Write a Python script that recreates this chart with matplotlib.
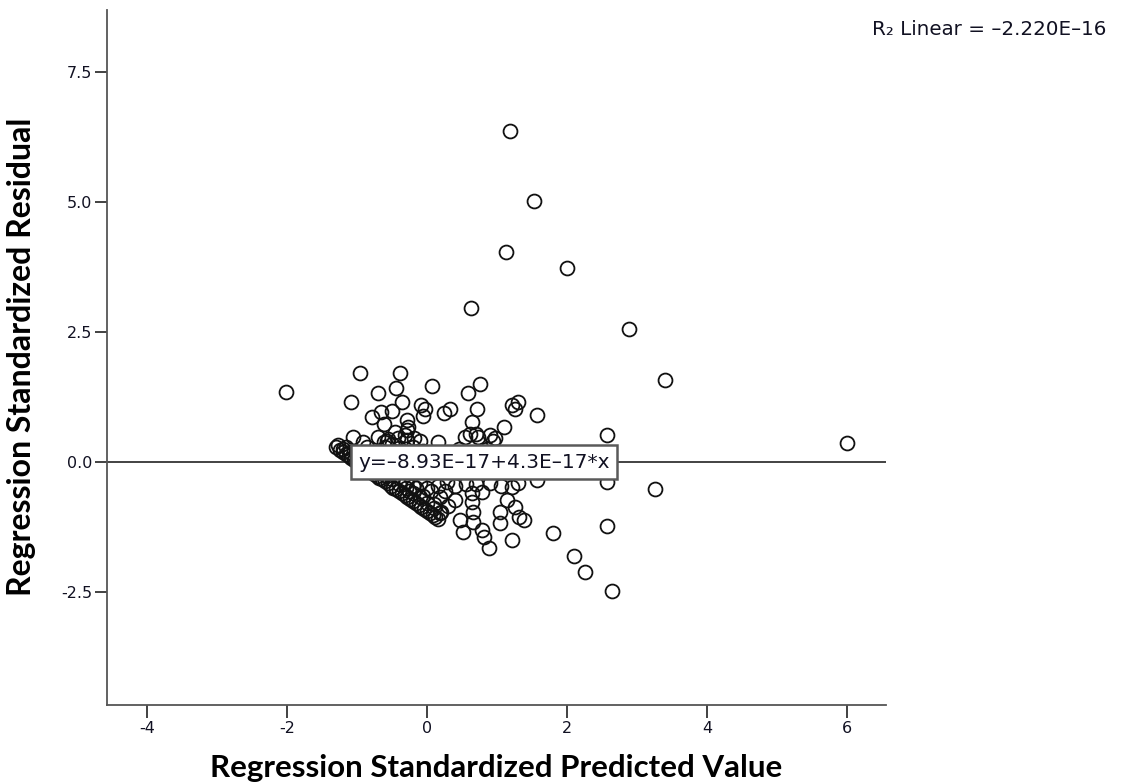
import matplotlib
matplotlib.use("Agg")
import matplotlib.pyplot as plt
from matplotlib.ticker import FixedLocator, FormatStrFormatter

# Standardized predicted values (x) and standardized residuals (y)
pred_outer = [1.19, 1.53, 1.13, 2.00, 0.63, 2.89, 3.40, -2.01, 6.00, 2.57,
              2.57, 3.26, 2.57, 1.80, 2.10, 2.26, 2.64]
resid_outer = [6.37, 5.02, 4.04, 3.73, 2.96, 2.56, 1.58, 1.35, 0.36, 0.52,
               -0.38, -0.51, -1.22, -1.36, -1.80, -2.12, -2.47]

pred_upper = [-0.95, -0.38, -0.70, -0.44, -1.08, -0.35, 0.07, 0.58, 0.75, -0.78,
              -0.65, -0.50, -0.62, -0.29, -0.27, -0.09, -0.03, -0.06, 0.24, 0.33,
              0.71, 0.64, 0.62, 0.54, 0.73, 0.90, 0.97, 1.10, 1.21, 1.30,
              1.26, 1.57, 0.16, -0.70, -1.05, -1.27, -1.20, -0.28, -0.46, -0.41,
              -0.29, -0.91, -0.57, 0.70, 0.94, -1.30, -1.15]
resid_upper = [1.72, 1.71, 1.32, 1.43, 1.16, 1.16, 1.46, 1.32, 1.51, 0.87,
               0.97, 0.99, 0.74, 0.81, 0.67, 1.10, 1.03, 0.88, 0.95, 1.03,
               1.03, 0.78, 0.55, 0.49, 0.49, 0.52, 0.46, 0.67, 1.09, 1.16,
               1.03, 0.90, 0.39, 0.49, 0.49, 0.33, 0.26, 0.62, 0.58, 0.46,
               0.42, 0.39, 0.40, 0.54, 0.40, 0.30, 0.30]

pred_mid = [-0.60, -0.50, -0.40, -0.35, -0.20, -0.15, -0.45, -0.70, -0.80, -0.25,
            -0.05, 0.05, 0.20, 0.35, 0.45, 0.55, 0.75, 0.85, 1.00, 1.15,
            1.35, 1.45, -0.55, -0.85, -0.32, -0.10, -0.62, -0.18]
resid_mid = [0.30, 0.35, 0.28, 0.20, 0.30, 0.15, 0.12, 0.20, 0.10, 0.08,
             0.22, 0.10, 0.15, 0.08, 0.25, 0.05, 0.12, 0.25, 0.20, 0.10,
             0.05, -0.10, 0.45, 0.30, 0.52, 0.40, 0.38, 0.47]

pred_lower = [0.19, 0.40, 0.64, 0.66, 0.47, 0.66, 0.52, 0.78, 0.81, 0.88,
              1.04, 1.14, 1.21, 1.26, 1.31, 1.38, 1.04, 1.21, 0.78, 0.28,
              0.64, 1.57, 0.40, 0.55, 0.90, 1.05, 1.30, 0.70, 0.15, 0.00,
              -0.10, -0.20, 0.10, -0.05, -0.25, 0.05, 0.25, 0.30, 0.20]
resid_lower = [-0.67, -0.73, -0.76, -0.95, -1.12, -1.15, -1.34, -1.31, -1.44, -1.66,
               -0.95, -0.73, -0.47, -0.86, -1.05, -1.11, -1.18, -1.49, -0.57, -0.38,
               -0.60, -0.35, -0.45, -0.42, -0.40, -0.45, -0.40, -0.42, -0.45, -0.50,
               -0.40, -0.45, -0.80, -0.65, -0.55, -0.55, -0.55, -0.85, -0.95]

# Lower-bound band of the residuals (observations at the floor of the outcome)
pred_band = [-1.24, -1.20, -1.16, -1.12, -1.08, -1.04, -1.00, -0.96, -0.92, -0.88,
             -0.84, -0.80, -0.76, -0.72, -0.68, -0.64, -0.60, -0.56, -0.52, -0.48,
             -0.44, -0.40, -0.36, -0.32, -0.28, -0.24, -0.20, -0.16, -0.12, -0.08,
             -0.04, 0.00, 0.04, 0.08, 0.12, 0.16,
             -1.10, -1.00, -0.90, -0.80, -0.70, -0.60, -0.50, -0.40, -0.30, -0.20,
             -0.10, 0.00, 0.10, 0.18, -0.30, -0.15]
resid_band = [0.23, 0.19, 0.15, 0.12, 0.08, 0.04, 0.00, -0.03, -0.07, -0.11,
              -0.15, -0.18, -0.22, -0.26, -0.30, -0.33, -0.37, -0.41, -0.45, -0.49,
              -0.52, -0.56, -0.60, -0.64, -0.68, -0.71, -0.75, -0.79, -0.83, -0.86,
              -0.90, -0.94, -0.98, -1.02, -1.05, -1.09,
              0.20, 0.10, 0.02, -0.08, -0.16, -0.25, -0.33, -0.42, -0.50, -0.60,
              -0.68, -0.78, -0.88, -0.98, -0.38, -0.50]

pred = pred_outer + pred_upper + pred_mid + pred_lower + pred_band
resid = resid_outer + resid_upper + resid_mid + resid_lower + resid_band

# Fitted line: y = b0 + b1 * x
b0 = -8.93e-17
b1 = 4.3e-17
fit_label = "y=\u20138.93E\u201317+4.3E\u201317*x"
r2_label = "R\u2082 Linear = \u20132.220E\u201316"

x_ticks = [-4, -2, 0, 2, 4, 6]
y_ticks = [-2.5, 0.0, 2.5, 5.0, 7.5]
x_lim = (-4.571, 6.557)
y_lim = (-4.67, 8.69)

fig = plt.figure(figsize=(11.25, 7.84), dpi=100)
ax = fig.add_axes([0.0951, 0.1008, 0.6925, 0.8862])

ax.plot(pred, resid, linestyle="none", marker="o", markersize=10,
        markerfacecolor="none", markeredgecolor="#111111",
        markeredgewidth=1.3, zorder=3)

ax.plot(list(x_lim), [b0 + b1 * x_lim[0], b0 + b1 * x_lim[1]],
        color="#222222", linewidth=1.2, zorder=2)

ax.text(-0.975, 0.0, fit_label, fontsize=14.5, family="DejaVu Sans",
        color="#111122", va="center", ha="left", zorder=5,
        bbox=dict(boxstyle="square,pad=0.36", facecolor="white",
                  edgecolor="#5a5a5a", linewidth=1.8))

ax.set_xlim(*x_lim)
ax.set_ylim(*y_lim)
ax.xaxis.set_major_locator(FixedLocator(x_ticks))
ax.yaxis.set_major_locator(FixedLocator(y_ticks))
ax.yaxis.set_major_formatter(FormatStrFormatter("%.1f"))
ax.xaxis.set_major_formatter(FormatStrFormatter("%d"))

for side in ("top", "right"):
    ax.spines[side].set_visible(False)
for side in ("left", "bottom"):
    ax.spines[side].set_color("#555555")
    ax.spines[side].set_linewidth(1.3)

ax.tick_params(axis="both", direction="out", length=9, width=1.3,
               color="#333333", labelsize=11.5, labelcolor="#111122")
ax.tick_params(axis="y", pad=1.5)
ax.tick_params(axis="x", pad=2.5)
for lab in ax.get_xticklabels() + ax.get_yticklabels():
    lab.set_family("DejaVu Sans")

label_font = ["Lato", "DejaVu Sans"]
ax.set_xlabel("Regression Standardized Predicted Value", fontsize=22.5,
              fontweight="bold", family=label_font, va="center", ha="center")
ax.xaxis.set_label_coords(0.499, -0.0906)
ax.set_ylabel("Regression Standardized Residual", fontsize=23,
              fontweight="bold", family=label_font, va="center", ha="center")
ax.yaxis.set_label_coords(-0.1091, 0.5007)

fig.text(0.775, 1 - 35 / 784, r2_label, fontsize=14.3, family="DejaVu Sans",
         color="#111122", ha="left", va="baseline")

fig.savefig("out.png", dpi=100, facecolor="white")
